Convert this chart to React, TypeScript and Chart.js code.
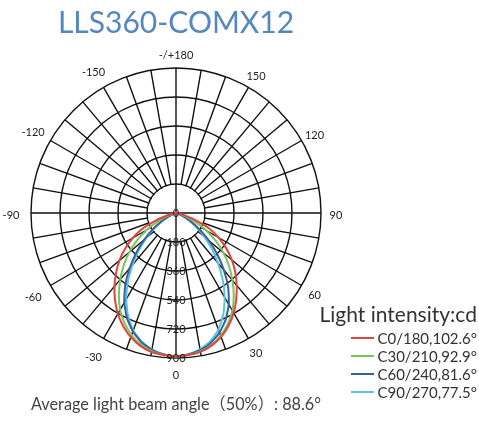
import React, { useEffect, useRef } from "react";
import { Chart, registerables } from "chart.js";

Chart.register(...registerables);

// ---------- data ----------
const titleText = "LLS360-COMX12";
const footerText = "Average light beam angle（50%）: 88.6°";
const legendTitle = "Light intensity:cd";

// gamma angles (deg) for the intensity arrays below
const gammaAngles = [0, 5, 10, 15, 20, 25, 30, 35, 40, 45, 50, 55, 60, 65, 70, 75, 80, 85, 90];

// intensities (cd) per gamma angle
const c0 = [890, 885, 875, 852, 818, 772, 716, 652, 586, 520, 452, 380, 305, 225, 125, 52, 16, 4, 0];
const c180 = [890, 885, 876, 854, 820, 775, 722, 660, 594, 526, 458, 386, 310, 228, 128, 54, 17, 4, 0];
const c30 = [890, 885, 872, 848, 810, 760, 700, 625, 545, 465, 385, 300, 215, 135, 65, 22, 5, 0, 0];
const c210 = [890, 884, 870, 845, 806, 755, 693, 618, 538, 458, 378, 294, 210, 130, 62, 20, 4, 0, 0];
const c60 = [890, 882, 865, 835, 790, 730, 655, 565, 462, 362, 268, 182, 112, 58, 22, 6, 0, 0, 0];
const c240 = [890, 881, 862, 830, 783, 720, 642, 550, 448, 350, 258, 175, 106, 54, 20, 5, 0, 0, 0];
const c90 = [890, 880, 858, 823, 770, 695, 605, 505, 405, 315, 230, 150, 88, 40, 12, 2, 0, 0, 0];
const c270 = [890, 880, 860, 826, 776, 704, 618, 520, 420, 326, 238, 156, 92, 42, 13, 3, 0, 0, 0];

const seriesNames = ["C0/180,102.6°", "C30/210,92.9°", "C60/240,81.6°", "C90/270,77.5°"];
const seriesColors = ["#e0443c", "#7cc45a", "#3a5f9e", "#5cc3dc"];
const seriesRight = [c0, c30, c60, c90];
const seriesLeft = [c180, c210, c240, c270];

// angle labels every 30°, clockwise from top
const angleTickLabels = ["-/+180", "150", "120", "90", "60", "30", "0", "-30", "-60", "-90", "-120", "-150"];

const radialMax = 900;
const radialStep = 180;

const FONT = 'Lato, "Noto Sans CJK SC", sans-serif';
const GRID = "#111111";

// ---------- helpers ----------
const STEP = 5;
const N = 360 / STEP; // index 0 at top, clockwise

function buildSeries(right: number[], left: number[]) {
  const out: number[] = [];
  for (let i = 0; i < N; i++) {
    const a = i * STEP;
    let gamma: number;
    let arr: number[];
    if (a <= 180) {
      gamma = 180 - a;
      arr = right;
    } else {
      gamma = a - 180;
      arr = left;
    }
    const k = gammaAngles.indexOf(gamma);
    out.push(k >= 0 ? arr[k] : 0);
  }
  return out;
}

const polarDecor = {
  id: "polarDecor",
  beforeDatasetsDraw(chart: any) {
    const s = chart.scales.r;
    const ctx = chart.ctx;
    const r0 = s.getDistanceFromCenterForValue(radialStep);
    ctx.save();
    ctx.beginPath();
    ctx.arc(s.xCenter, s.yCenter, r0 - 0.8, 0, Math.PI * 2);
    ctx.fillStyle = "#ffffff";
    ctx.fill();
    ctx.strokeStyle = GRID;
    ctx.lineWidth = 1.4;
    ctx.beginPath();
    ctx.moveTo(s.xCenter - r0, s.yCenter);
    ctx.lineTo(s.xCenter + r0, s.yCenter);
    ctx.moveTo(s.xCenter, s.yCenter - r0);
    ctx.lineTo(s.xCenter, s.yCenter + r0);
    ctx.stroke();
    ctx.restore();
  },
  afterDatasetsDraw(chart: any) {
    const s = chart.scales.r;
    const ctx = chart.ctx;
    ctx.save();
    ctx.fillStyle = "#222";
    ctx.textAlign = "center";
    ctx.textBaseline = "middle";
    ctx.font = `11px ${FONT}`;
    s.ticks.forEach((t: any) => {
      const d = s.getDistanceFromCenterForValue(t.value);
      ctx.fillText(String(t.value), s.xCenter, s.yCenter + d);
    });
    angleTickLabels.forEach((txt, k) => {
      const idx = k * (30 / STEP);
      const leftSide = k > 6;
      const p = s.getPointPosition(idx, s.drawingArea + (leftSide ? 20 : 15));
      ctx.fillText(txt, p.x, p.y + 2);
    });
    ctx.restore();
  },
};

export default function App() {
  const ref = useRef<HTMLCanvasElement>(null);

  useEffect(() => {
    if (!ref.current) return;
    const labels = Array.from({ length: N }, (_, i) => String(i * STEP));
    const chart = new Chart(ref.current, {
      type: "radar",
      data: {
        labels,
        datasets: seriesNames.map((name, i) => ({
          label: name,
          data: buildSeries(seriesRight[i], seriesLeft[i]),
          borderColor: seriesColors[i],
          backgroundColor: seriesColors[i],
          borderWidth: 2,
          pointRadius: 0,
          fill: false,
          tension: 0.15,
        })),
      },
      options: {
        responsive: false,
        animation: false,
        events: [],
        layout: { padding: { left: 31, right: 158, top: 0, bottom: 0 } },
        plugins: {
          legend: { display: false },
          tooltip: { enabled: false },
          title: {
            display: true,
            text: titleText,
            color: "#5487c0",
            font: { family: FONT, size: 30, weight: "normal", lineHeight: "36px" },
            padding: { top: 5, bottom: 27 },
          },
          subtitle: {
            display: true,
            position: "bottom",
            text: footerText,
            color: "#444",
            font: { family: FONT, size: 17, weight: "normal", lineHeight: "20px" },
            padding: { top: 37, bottom: 10 },
          },
        },
        scales: {
          r: {
            min: 0,
            max: radialMax,
            ticks: { stepSize: radialStep, display: false },
            grid: { circular: true, color: GRID, lineWidth: 1.4 },
            angleLines: {
              display: true,
              color: GRID,
              lineWidth: (c: any) => (c.index % 2 === 0 ? 1.4 : 0),
            },
            pointLabels: { display: false },
          },
        },
      },
      plugins: [polarDecor],
    } as any);
    return () => chart.destroy();
  }, []);

  return (
    <div style={{ position: "fixed", left: 0, top: 0, width: 479, height: 425, background: "#fff" }}>
      <canvas ref={ref} width={479} height={425} style={{ position: "absolute", left: 0, top: 0, display: "block" }} />
      <div
        style={{
          position: "absolute",
          right: 2,
          top: 303,
          fontFamily: FONT,
          color: "#333",
          textAlign: "right",
        }}
      >
        <div style={{ fontSize: 21, lineHeight: "22px", height: 26, whiteSpace: "nowrap" }}>{legendTitle}</div>
        {seriesNames.map((n, i) => (
          <div
            key={n}
            style={{ display: "flex", justifyContent: "flex-end", alignItems: "center", height: 18, fontSize: 15, whiteSpace: "nowrap" }}
          >
            <span style={{ display: "inline-block", width: 23, height: 2, background: seriesColors[i], marginRight: 3 }} />
            <span>{n}</span>
          </div>
        ))}
      </div>
    </div>
  );
}
